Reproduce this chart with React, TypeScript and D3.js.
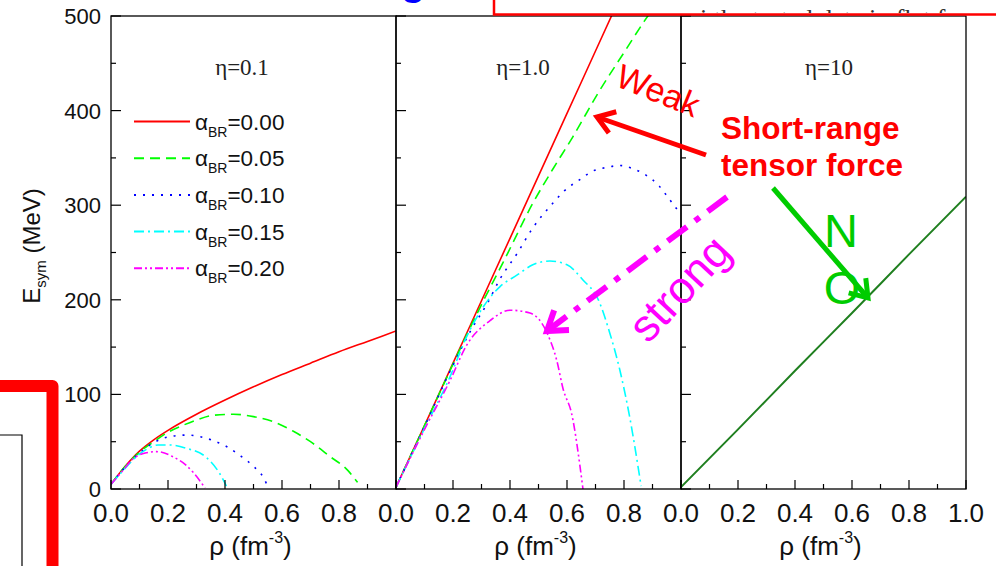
import React from 'react';
import * as d3 from 'd3';

// ---------- data ----------
const rhoMajor = [0, 0.2, 0.4, 0.6, 0.8, 1.0];
const rhoMinor = [0.1, 0.3, 0.5, 0.7, 0.9];
const eMajor = [0, 100, 200, 300, 400, 500];
const eMinor = [50, 150, 250, 350, 450];
const etaLabels = ['η=0.1', 'η=1.0', 'η=10'];
const alphaLabels = ['0.00', '0.05', '0.10', '0.15', '0.20'];

// eta = 0.1
const eta01_a000 = [[0,5],[0.05,24],[0.1,40],[0.15,52],[0.2,62],[0.3,79],[0.4,94],[0.5,108],[0.6,121],[0.7,133],[0.8,145],[0.9,156],[1.0,167]];
const eta01_a005 = [[0,5],[0.05,24],[0.1,39],[0.15,50],[0.2,60],[0.25,67],[0.3,73],[0.36,78],[0.43,79],[0.5,76.5],[0.57,71],[0.64,61],[0.7,50],[0.77,34],[0.83,20],[0.865,7]];
const eta01_a010 = [[0,5],[0.05,23],[0.1,38],[0.15,49],[0.2,55],[0.265,57],[0.31,55.5],[0.36,51],[0.405,45],[0.45,36],[0.5,24],[0.535,12],[0.545,6]];
const eta01_a015 = [[0,5],[0.05,22],[0.1,37],[0.125,42],[0.165,46.5],[0.207,46.5],[0.265,43],[0.336,33],[0.38,17],[0.405,3]];
const eta01_a020 = [[0,5],[0.04,19],[0.078,32],[0.12,38],[0.16,39.5],[0.218,34],[0.26,26],[0.29,17],[0.33,1]];

// eta = 1.0
const eta10_a000 = [[0,2],[0.1,67],[0.2,133],[0.3,199],[0.4,265],[0.5,331],[0.6,397],[0.7,463],[0.8,529]];
const eta10_a005 = [[0,2],[0.1,67],[0.2,132],[0.3,195],[0.375,239],[0.48,302],[0.55,338],[0.62,372],[0.71,419],[0.81,466],[0.87,494],[0.9,507]];
const eta10_a010 = [[0,2],[0.1,66],[0.2,131],[0.267,170],[0.32,196],[0.365,222],[0.425,249],[0.48,276],[0.55,302],[0.59,315],[0.645,327],[0.69,336],[0.74,340],[0.786,342],[0.828,339],[0.876,332],[0.924,320],[0.96,306],[1.0,290]];
const eta10_a015 = [[0,2],[0.1,64],[0.19,119],[0.248,161],[0.305,192],[0.365,214],[0.424,226],[0.48,237],[0.54,241],[0.6,237],[0.656,221],[0.71,200],[0.75,165],[0.786,125],[0.82,76],[0.86,3]];
const eta10_a020 = [[0,2],[0.1,63],[0.19,115],[0.248,152],[0.33,178],[0.4,189],[0.47,186],[0.53,165],[0.564,136],[0.587,105],[0.616,80],[0.656,0]];

// eta = 10
const eta100_a000 = [[0,2],[0.2,63],[0.4,125],[0.6,186],[0.8,248],[1.0,309]];

const panelSeries = [
  [eta01_a000, eta01_a005, eta01_a010, eta01_a015, eta01_a020],
  [eta10_a000, eta10_a005, eta10_a010, eta10_a015, eta10_a020],
  [eta100_a000],
];

// ---------- styles ----------
const seriesColors = ['#ff0000', '#00ff00', '#0000ff', '#00ffff', '#ff00ff'];
const seriesDash = ['none', '10,6', '2,7', '10,4,2,4', '8,3,2,3,2,3'];
const darkGreen = '#1f7f1f';
const SANS = '"Liberation Sans", Arial, sans-serif';
const SERIF = '"Liberation Serif", "Times New Roman", serif';

const W = 996, H = 566;
const panelLefts = [111, 396, 681];
const panelW = 285;
const yTop = 16, yBot = 489;

function arrowHead(tail: number[], tip: number[], len: number, ang: number) {
  const dx = tip[0] - tail[0], dy = tip[1] - tail[1];
  const a = Math.atan2(dy, dx);
  const p1 = [tip[0] - len * Math.cos(a - ang), tip[1] - len * Math.sin(a - ang)];
  const p2 = [tip[0] - len * Math.cos(a + ang), tip[1] - len * Math.sin(a + ang)];
  return `M${p1[0]},${p1[1]}L${tip[0]},${tip[1]}L${p2[0]},${p2[1]}`;
}

export default function App() {
  const y = d3.scaleLinear().domain([0, 500]).range([yBot, yTop]);
  const xs = panelLefts.map((l) => d3.scaleLinear().domain([0, 1]).range([l, l + panelW]));

  const panels = xs.map((x, pi) => {
    const line = d3.line<number[]>().x((d) => x(d[0])).y((d) => y(d[1])).curve(d3.curveMonotoneX);
    const labels = pi === 2 ? rhoMajor : rhoMajor.slice(0, 5);
    return (
      <g key={pi}>
        <clipPath id={`clip${pi}`}>
          <rect x={x(0)} y={yTop} width={panelW} height={yBot - yTop} />
        </clipPath>
        <g clipPath={`url(#clip${pi})`}>
          {panelSeries[pi].map((s, si) => (
            <path key={si} d={line(s) || ''} fill="none"
              stroke={pi === 2 ? darkGreen : seriesColors[si]}
              strokeWidth={pi === 2 ? 2 : 1.6}
              strokeDasharray={pi === 2 ? 'none' : seriesDash[si]} />
          ))}
        </g>
        <rect x={x(0)} y={yTop} width={panelW} height={yBot - yTop} fill="none" stroke="#000" strokeWidth={1.3} />
        {rhoMajor.map((t) => (
          <line key={'M' + t} x1={x(t)} x2={x(t)} y1={yBot} y2={yBot - 9} stroke="#000" strokeWidth={1.2} />
        ))}
        {rhoMinor.map((t) => (
          <line key={'m' + t} x1={x(t)} x2={x(t)} y1={yBot} y2={yBot - 5} stroke="#000" strokeWidth={1.2} />
        ))}
        {eMajor.map((t) => (
          <line key={'EM' + t} x1={x(0)} x2={x(0) + 10} y1={y(t)} y2={y(t)} stroke="#000" strokeWidth={1.2} />
        ))}
        {eMinor.map((t) => (
          <line key={'Em' + t} x1={x(0)} x2={x(0) + 5} y1={y(t)} y2={y(t)} stroke="#000" strokeWidth={1.2} />
        ))}
        {labels.map((t) => (
          <text key={'L' + t} x={x(t)} y={522} textAnchor="middle" fontFamily={SANS} fontSize={26} fill="#111">
            {t.toFixed(1)}
          </text>
        ))}
        <text x={x(0.5) - 3} y={555} textAnchor="middle" fontFamily={SANS} fontSize={26} fill="#111">
          ρ (fm<tspan fontSize={16} dy={-12}>-3</tspan><tspan dy={12}>)</tspan>
        </text>
        <text x={[242, 523, 829][pi]} y={75} textAnchor="middle" fontFamily={SERIF} fontSize={23} fill="#222">
          {etaLabels[pi]}
        </text>
      </g>
    );
  });

  const legendRows = alphaLabels.map((a, i) => {
    const ry = 121.5 + i * 36.7;
    return (
      <g key={a}>
        <line x1={134} x2={190} y1={ry} y2={ry} stroke={seriesColors[i]} strokeWidth={2} strokeDasharray={seriesDash[i]} />
        <text x={195} y={ry + 8} fontFamily={SANS} fontSize={22.5} fill="#111">
          α<tspan fontSize={14} dy={7}>BR</tspan><tspan dy={-7}>={a}</tspan>
        </text>
      </g>
    );
  });

  const redTail = [706, 155], redTip = [597, 117];
  const magTail = [727, 197], magTip = [547, 331];
  const grnTail = [773, 188], grnTip = [868, 298];

  return (
    <svg width={W} height={H} style={{ position: 'absolute', left: 0, top: 0, background: '#fff' }}
      xmlns="http://www.w3.org/2000/svg">
      <rect x={0} y={0} width={W} height={H} fill="#fff" />
      {/* cut-off decorations from the slide */}
      <clipPath id="topclip"><rect x={494} y={0} width={502} height={13} /></clipPath>
      <text x={700} y={27} fontFamily={SERIF} fontSize={26} fill="#333" clipPath="url(#topclip)">
        i the tested data in flat f
      </text>
      <clipPath id="gclip"><rect x={395} y={0} width={40} height={14} /></clipPath>
      <text x={401} y={-5} fontFamily={SANS} fontWeight="bold" fontSize={40} fill="#0000ff" clipPath="url(#gclip)">g</text>

      {panels}

      {eMajor.map((t) => (
        <text key={'yl' + t} x={101} y={y(t)} dy="0.36em" textAnchor="end" fontFamily={SANS} fontSize={22} fill="#111">
          {t}
        </text>
      ))}
      <text transform={`translate(40,246) rotate(-90)`} textAnchor="middle" fontFamily={SANS} fontSize={24} fill="#111">
        E<tspan fontSize={15} dy={6}>sym</tspan><tspan dy={-6}> (MeV)</tspan>
      </text>

      {legendRows}

      {/* red top box */}
      <path d="M494,0V14.5H996" fill="none" stroke="#ff0000" strokeWidth={2.5} />
      {/* bottom-left decorations */}
      <path d="M0,435H22V566" fill="none" stroke="#000" strokeWidth={1.2} />
      <path d="M0,386H52.5V566" fill="none" stroke="#ff0000" strokeWidth={12} strokeLinejoin="round" />

      {/* annotations */}
      <text transform="translate(657,93) rotate(22)" textAnchor="middle" dominantBaseline="middle"
        fontFamily={SANS} fontSize={34} fill="#ff0000">Weak</text>
      <path d={`M${redTail[0]},${redTail[1]}L${redTip[0]},${redTip[1]}`} stroke="#ff0000" strokeWidth={5} fill="none" />
      <path d={arrowHead(redTail, redTip, 20, 0.6)} stroke="#ff0000" strokeWidth={5} fill="none" strokeLinejoin="miter" />
      <text x={721} y={139} fontFamily={SANS} fontWeight="bold" fontSize={31.5} fill="#ff0000">Short-range</text>
      <text x={721} y={176} fontFamily={SANS} fontWeight="bold" fontSize={31.5} fill="#ff0000">tensor force</text>

      <path d={`M${magTail[0]},${magTail[1]}L${magTip[0]},${magTip[1]}`} stroke="#ff00ff" strokeWidth={6}
        strokeDasharray="24,10,6,10" fill="none" />
      <path d={arrowHead(magTail, magTip, 22, 0.6)} stroke="#ff00ff" strokeWidth={6} fill="none" />
      <text transform="translate(682,291) rotate(-47)" textAnchor="middle" dominantBaseline="middle"
        fontFamily={SANS} fontSize={45} fill="#ff00ff">strong</text>

      <path d={`M${grnTail[0]},${grnTail[1]}L${grnTip[0]},${grnTip[1]}`} stroke="#00cc00" strokeWidth={5} fill="none" />
      <path d={arrowHead(grnTail, grnTip, 20, 0.6)} stroke="#00cc00" strokeWidth={5} fill="none" />
      <text x={841} y={247} textAnchor="middle" fontFamily={SANS} fontSize={47} fill="#00cc00">N</text>
      <text x={842} y={304} textAnchor="middle" fontFamily={SANS} fontSize={47} fill="#00cc00">O</text>
    </svg>
  );
}
